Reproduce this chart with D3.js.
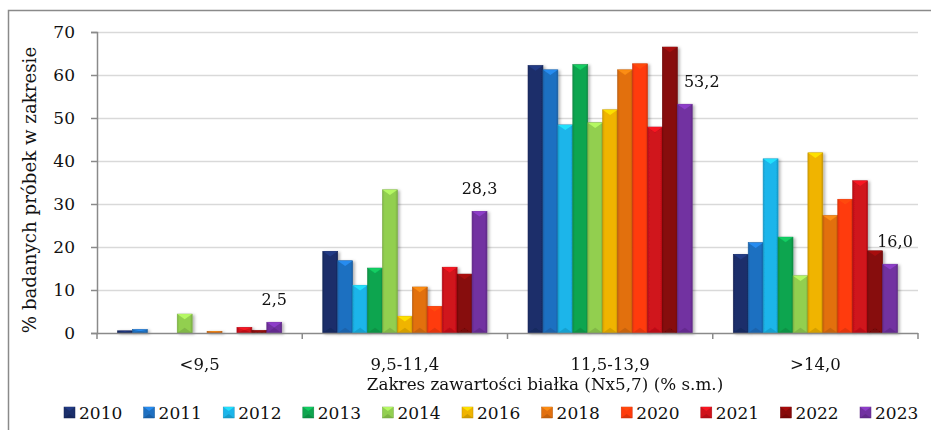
<!DOCTYPE html>
<html>
<head>
<meta charset="utf-8">
<script src="https://cdn.jsdelivr.net/npm/d3@7"></script>
<style>
  html, body { margin: 0; padding: 0; background: #fff; }
  svg { display: block; font-family: "DejaVu Serif", "Liberation Serif", serif; }
</style>
</head>
<body>
<svg id="chart" width="931" height="430"></svg>
<script>
// Protein content ranges (x-axis groups)
const categories = ["<9,5", "9,5-11,4", "11,5-13,9", ">14,0"];
// Harvest years (series)
const years = ["2010", "2011", "2012", "2013", "2014", "2016", "2018", "2020", "2021", "2022", "2023"];
// Share of samples (%) in each range, one array per year, ordered as categories
const v2010 = [0.5, 19.0, 62.2, 18.3];
const v2011 = [0.8, 16.8, 61.2, 21.0];
const v2012 = [0.0, 11.1, 48.4, 40.5];
const v2013 = [0.0, 15.1, 62.4, 22.3];
const v2014 = [4.4, 33.3, 48.9, 13.3];
const v2016 = [0.0, 3.9, 51.9, 41.9];
const v2018 = [0.4, 10.7, 61.2, 27.3];
const v2020 = [0.0, 6.2, 62.6, 31.1];
const v2021 = [1.3, 15.3, 47.9, 35.4];
const v2022 = [0.6, 13.7, 66.5, 19.1];
const v2023 = [2.5, 28.3, 53.2, 16.0];
// Value labels shown for the latest year
const labelYear = "2023";
const yTicks = [0, 10, 20, 30, 40, 50, 60, 70];
const seriesColors = ["#1b2f6b", "#1f70c1", "#1bb5ea", "#0fa54f", "#92cf50", "#f0b400",
                      "#e2700f", "#ff3b0b", "#d0121b", "#870909", "#7231a1"];

const valuesByYear = [v2010, v2011, v2012, v2013, v2014, v2016, v2018, v2020, v2021, v2022, v2023];
const series = years.map((y, i) => ({ year: y, color: seriesColors[i], values: valuesByYear[i] }));

const svg = d3.select("#chart");
const plot = { left: 97, right: 918, top: 32, bottom: 333 };

// Outer chart frame
svg.append("path")
  .attr("d", `M8.5,431 V10.5 H932`)
  .attr("fill", "none").attr("stroke", "#8a8a8a").attr("stroke-width", 1.5);

const x0 = d3.scaleBand().domain(categories).range([plot.left, plot.right]).padding(0);
const bw = x0.bandwidth();
const x1 = d3.scaleBand().domain(years).range([bw * 0.1, bw * 0.9]).padding(0);
const y = d3.scaleLinear().domain([0, 70]).range([plot.bottom, plot.top]);

// Gridlines
svg.append("g").selectAll("line").data(yTicks.filter(t => t > 0)).join("line")
  .attr("x1", plot.left).attr("x2", plot.right)
  .attr("y1", d => y(d) + 0.5).attr("y2", d => y(d) + 0.5)
  .attr("stroke", "#d9d9d9").attr("stroke-width", 1.5);

// Y axis
const yAxis = svg.append("g").attr("transform", `translate(${plot.left},0)`)
  .call(d3.axisLeft(y).tickValues(yTicks).tickSize(6).tickPadding(16).tickFormat(d3.format("d")));
yAxis.select(".domain").attr("stroke", "#8a8a8a").attr("stroke-width", 1.5);
yAxis.selectAll(".tick line").attr("stroke", "#8a8a8a").attr("stroke-width", 1.5);
yAxis.selectAll(".tick text").attr("font-size", 17).attr("fill", "#111")
  .attr("font-family", "DejaVu Serif");

// Shading defs for bevelled bars
const defs = svg.append("defs");
const shadow = defs.append("filter").attr("id", "shadow")
  .attr("x", "-20%").attr("y", "-5%").attr("width", "160%").attr("height", "115%");
shadow.append("feDropShadow").attr("dx", 2).attr("dy", 1).attr("stdDeviation", 1.5)
  .attr("flood-color", "#000").attr("flood-opacity", 0.3);

series.forEach((s, i) => {
  const g = defs.append("linearGradient").attr("id", "grad" + i)
    .attr("x1", 0).attr("x2", 1).attr("y1", 0).attr("y2", 0);
  const c = d3.color(s.color);
  g.append("stop").attr("offset", "0%").attr("stop-color", c.darker(0.35));
  g.append("stop").attr("offset", "15%").attr("stop-color", c);
  g.append("stop").attr("offset", "85%").attr("stop-color", c);
  g.append("stop").attr("offset", "100%").attr("stop-color", c.darker(0.45));
});

// Bars
const groups = svg.append("g").selectAll("g").data(series).join("g")
  .attr("filter", "url(#shadow)");

groups.each(function (s, si) {
  const g = d3.select(this);
  const c = d3.color(s.color);
  categories.forEach((cat, ci) => {
    const v = s.values[ci];
    if (v <= 0) return;
    const bx = x0(cat) + x1(s.year);
    const w = x1.bandwidth();
    const top = y(v);
    const h = y(0) - top;
    g.append("rect")
      .attr("x", bx).attr("y", top).attr("width", w).attr("height", h)
      .attr("fill", `url(#grad${si})`)
      .attr("stroke", c.darker(0.6)).attr("stroke-width", 0.6);
    // bevel: light wedge at the top, dark wedge at the bottom
    const bev = Math.min(w * 0.35, h / 2);
    g.append("path")
      .attr("d", `M${bx},${top} H${bx + w} L${bx + w / 2},${top + bev} Z`)
      .attr("fill", c.brighter(0.7)).attr("opacity", 0.85);
    g.append("path")
      .attr("d", `M${bx},${top + h} H${bx + w} L${bx + w / 2},${top + h - bev} Z`)
      .attr("fill", c.darker(0.6)).attr("opacity", 0.6);
  });
});

// X axis
const xAxis = svg.append("g").attr("transform", `translate(0,${plot.bottom})`);
xAxis.append("line").attr("x1", plot.left).attr("x2", plot.right)
  .attr("y1", 0.5).attr("y2", 0.5).attr("stroke", "#8a8a8a").attr("stroke-width", 1.5);
const bounds = categories.map(c => x0(c)).concat([plot.right]);
xAxis.selectAll("line.tk").data(bounds).join("line").attr("class", "tk")
  .attr("x1", d => d).attr("x2", d => d).attr("y1", 0).attr("y2", 6)
  .attr("stroke", "#8a8a8a").attr("stroke-width", 1.5);
xAxis.selectAll("text").data(categories).join("text")
  .attr("x", d => x0(d) + bw / 2).attr("y", 37)
  .attr("text-anchor", "middle").attr("font-size", 16.5).attr("fill", "#111")
  .text(d => d);

// Axis titles
svg.append("text").attr("x", 545).attr("y", 390).attr("text-anchor", "middle")
  .attr("font-size", 16.8).attr("fill", "#111")
  .text("Zakres zawartości białka (Nx5,7) (% s.m.)");
svg.append("text").attr("transform", "translate(36,190) rotate(-90)")
  .attr("text-anchor", "middle").attr("font-size", 18.2).attr("fill", "#111")
  .text("% badanych próbek w zakresie");

// Value labels for the latest year
const lab = series.find(s => s.year === labelYear);
const labelShift = [0, 0, 17, 5];
svg.append("g").selectAll("text").data(categories).join("text")
  .attr("x", (d, i) => x0(d) + x1(labelYear) + x1.bandwidth() / 2 + labelShift[i])
  .attr("y", (d, i) => y(lab.values[i]) - 17)
  .attr("text-anchor", "middle").attr("font-size", 16).attr("fill", "#111")
  .text((d, i) => d3.format(".1f")(lab.values[i]).replace(".", ","));

// Legend
const legend = svg.append("g").attr("transform", "translate(64,407)");
const items = legend.selectAll("g").data(series).join("g")
  .attr("transform", (d, i) => `translate(${i * 79.6},0)`);
items.each(function (s) {
  const g = d3.select(this);
  const c = d3.color(s.color);
  g.append("rect").attr("x", 0).attr("y", 0).attr("width", 11).attr("height", 11)
    .attr("fill", s.color).attr("stroke", c.darker(0.6)).attr("stroke-width", 0.5);
  g.append("path").attr("d", "M0,0 H11 L5.5,4 Z").attr("fill", c.brighter(0.7)).attr("opacity", 0.85);
  g.append("path").attr("d", "M0,11 H11 L5.5,7 Z").attr("fill", c.darker(0.7)).attr("opacity", 0.6);
});
items.append("text").attr("x", 15).attr("y", 11.5)
  .attr("font-size", 17).attr("fill", "#111")
  .text(d => d.year);
</script>
</body>
</html>
